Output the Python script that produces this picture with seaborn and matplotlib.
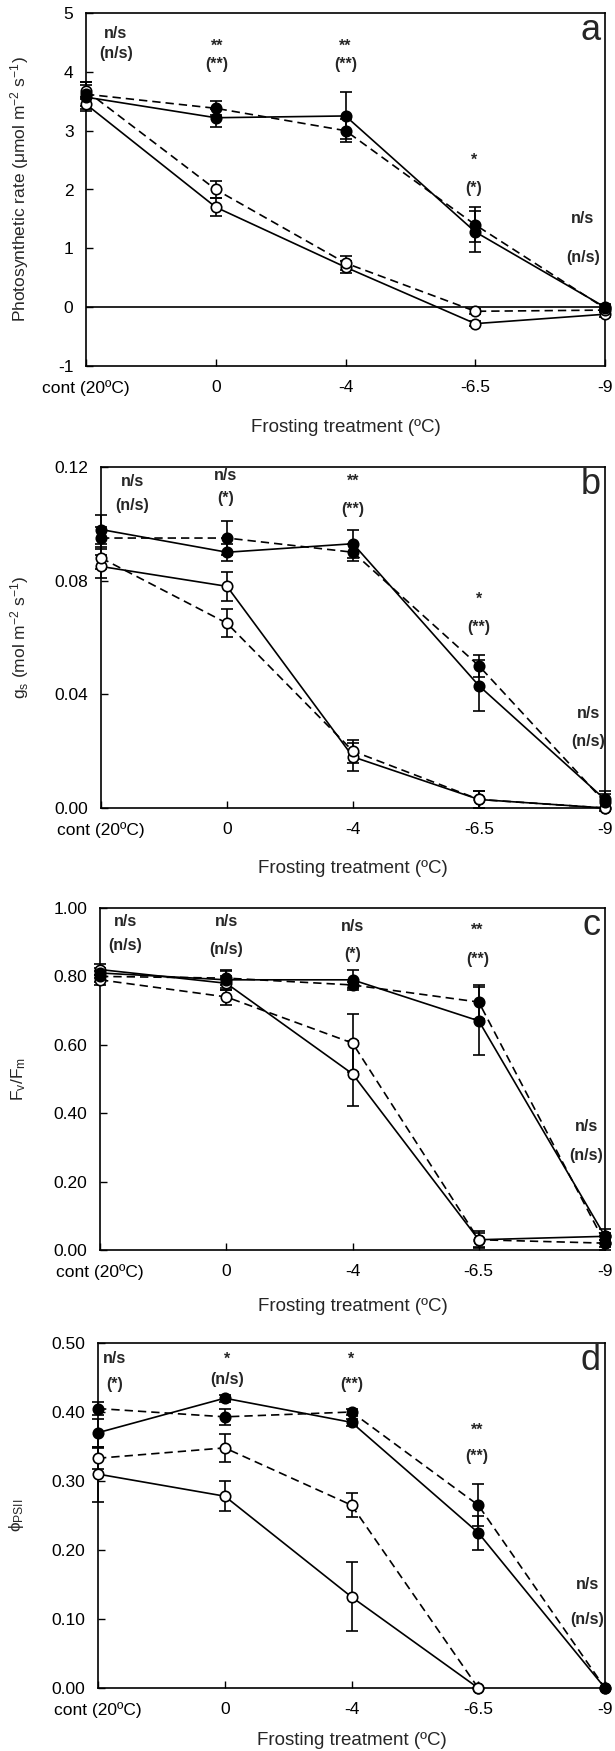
import numpy as np
import matplotlib
matplotlib.use("Agg")
import matplotlib.pyplot as plt
import seaborn as sns

# ---------------- data ----------------
categories = ["cont (20ºC)", "0", "-4", "-6.5", "-9"]
x_label = "Frosting treatment (ºC)"

# panel a: photosynthetic rate
a_closed_solid = [3.57, 3.22, 3.25, 1.28, 0.00]
a_closed_dashed = [3.62, 3.38, 3.00, 1.40, -0.02]
a_open_solid = [3.45, 1.70, 0.68, -0.28, -0.12]
a_open_dashed = [3.68, 2.00, 0.75, -0.07, -0.05]
a_err_closed_solid = [0.20, 0.15, 0.40, 0.35, 0.05]
a_err_closed_dashed = [0.20, 0.12, 0.20, 0.30, 0.05]
a_err_open_solid = [0.12, 0.15, 0.10, 0.04, 0.04]
a_err_open_dashed = [0.15, 0.15, 0.12, 0.04, 0.04]
a_sig_top = ["n/s", "**", "**", "*", "n/s"]
a_sig_bottom = ["(n/s)", "(**)", "(**)", "(*)", "(n/s)"]

# panel b: stomatal conductance
b_closed_solid = [0.098, 0.090, 0.093, 0.043, 0.003]
b_closed_dashed = [0.095, 0.095, 0.090, 0.050, 0.002]
b_open_solid = [0.085, 0.078, 0.018, 0.003, 0.000]
b_open_dashed = [0.088, 0.065, 0.020, 0.003, 0.000]
b_err_closed_solid = [0.005, 0.003, 0.005, 0.009, 0.003]
b_err_closed_dashed = [0.004, 0.006, 0.003, 0.004, 0.003]
b_err_open_solid = [0.004, 0.005, 0.005, 0.003, 0.000]
b_err_open_dashed = [0.004, 0.005, 0.004, 0.003, 0.000]
b_sig_top = ["n/s", "n/s", "**", "*", "n/s"]
b_sig_bottom = ["(n/s)", "(*)", "(**)", "(**)", "(n/s)"]

# panel c: Fv/Fm
c_closed_solid = [0.810, 0.790, 0.790, 0.670, 0.040]
c_closed_dashed = [0.800, 0.795, 0.775, 0.725, 0.020]
c_open_solid = [0.820, 0.780, 0.515, 0.030, 0.040]
c_open_dashed = [0.790, 0.740, 0.605, 0.030, 0.020]
c_err_closed_solid = [0.015, 0.030, 0.030, 0.100, 0.020]
c_err_closed_dashed = [0.015, 0.020, 0.010, 0.050, 0.020]
c_err_open_solid = [0.015, 0.020, 0.095, 0.020, 0.010]
c_err_open_dashed = [0.015, 0.025, 0.085, 0.025, 0.010]
c_sig_top = ["n/s", "n/s", "n/s", "**", "n/s"]
c_sig_bottom = ["(n/s)", "(n/s)", "(*)", "(**)", "(n/s)"]

# panel d: phi PSII
d_closed_solid = [0.370, 0.420, 0.385, 0.225, 0.000]
d_closed_dashed = [0.405, 0.393, 0.400, 0.265, 0.000]
d_open_solid = [0.310, 0.278, 0.132, 0.000, np.nan]
d_open_dashed = [0.333, 0.348, 0.265, 0.000, np.nan]
d_err_closed_solid = [0.020, 0.005, 0.005, 0.025, 0.000]
d_err_closed_dashed = [0.010, 0.012, 0.005, 0.030, 0.000]
d_err_open_solid = [0.040, 0.022, 0.050, 0.000, 0.000]
d_err_open_dashed = [0.015, 0.020, 0.017, 0.000, 0.000]
d_sig_top = ["n/s", "*", "*", "**", "n/s"]
d_sig_bottom = ["(*)", "(n/s)", "(**)", "(**)", "(n/s)"]

# ---------------- style ----------------
sns.set_theme(style="ticks")
plt.rcParams["font.family"] = ["Liberation Sans", "DejaVu Sans"]
plt.rcParams["mathtext.fontset"] = "custom"
plt.rcParams["mathtext.rm"] = "Liberation Sans"
plt.rcParams["mathtext.it"] = "Liberation Sans"

W, H = 615, 1751
fig = plt.figure(figsize=(W / 100, H / 100), dpi=100)
fig.patch.set_facecolor("white")

LW = 1.2
DASH = (0, (5, 3))
TICK_FS = 12.5
XLAB_FS = 13.5
YLAB_FS = 12.5
SIG_FS = 11.5
LETTER_FS = 26


def make_axes(left, right, top, bottom):
    return fig.add_axes([left / W, 1 - bottom / H, (right - left) / W, (bottom - top) / H])


def panel(ax, series, errs, ylim, yticks, yfmt, ylabel, ylab_px, letter,
          sig_top, sig_bottom, sig_x, sig_ytop, sig_ybot, ax_left, ax_w, ax_h,
          xlab_off, zero_line=False):
    x = np.arange(len(categories))
    styles = {
        "open_solid": ("white", "-", 3),
        "open_dashed": ("white", DASH, 3),
        "closed_solid": ("black", "-", 4),
        "closed_dashed": ("black", DASH, 4),
    }
    if zero_line:
        ax.axhline(0, color="black", lw=LW, zorder=1)
    for key in ["open_solid", "open_dashed", "closed_dashed", "closed_solid"]:
        fc, ls, z = styles[key]
        vals = np.array(series[key], dtype=float)
        ax.errorbar(x, vals, yerr=errs[key], fmt="none", ecolor="black",
                    elinewidth=LW, capsize=4, capthick=LW, clip_on=False, zorder=2)
        sns.lineplot(x=x, y=vals, ax=ax, color="black", linestyle=ls, linewidth=LW,
                     marker="o", markersize=7.5, markerfacecolor=fc,
                     markeredgecolor="black", markeredgewidth=1.2,
                     clip_on=False, zorder=z, sort=False, errorbar=None)
    ax.set_xlim(0, len(categories) - 1)
    ax.set_ylim(*ylim)
    ax.set_xticks(x)
    ax.set_xticklabels(categories)
    ax.set_yticks(yticks)
    ax.set_yticklabels([yfmt.format(v) for v in yticks])
    for s in ax.spines.values():
        s.set_visible(True)
        s.set_linewidth(LW)
        s.set_color("black")
    ax.tick_params(axis="both", direction="in", length=5, width=1.0,
                   labelsize=TICK_FS, colors="black")
    ax.tick_params(axis="x", pad=10)
    ax.tick_params(axis="y", pad=9)
    ax.set_xlabel(x_label, fontsize=XLAB_FS)
    ax.xaxis.set_label_coords(0.5, -xlab_off / ax_h)
    ax.set_ylabel(ylabel, fontsize=YLAB_FS)
    ax.yaxis.set_label_coords((ylab_px - ax_left) / ax_w, 0.5)
    ax.text(0.992, 1.0, letter, transform=ax.transAxes, ha="right", va="top",
            fontsize=LETTER_FS)
    for i in range(len(categories)):
        ax.text(sig_x[i], sig_ytop[i], sig_top[i], ha="center", va="center",
                fontsize=SIG_FS, fontweight="bold", clip_on=False)
        ax.text(sig_x[i], sig_ybot[i], sig_bottom[i], ha="center", va="center",
                fontsize=SIG_FS, fontweight="bold", clip_on=False)
    ax.grid(False)


# panel a
ax = make_axes(86, 605, 13, 366)
panel(ax,
      {"closed_solid": a_closed_solid, "closed_dashed": a_closed_dashed,
       "open_solid": a_open_solid, "open_dashed": a_open_dashed},
      {"closed_solid": a_err_closed_solid, "closed_dashed": a_err_closed_dashed,
       "open_solid": a_err_open_solid, "open_dashed": a_err_open_dashed},
      (-1, 5), [-1, 0, 1, 2, 3, 4, 5], "{:.0f}",
      r"Photosynthetic rate ($\mu$mol m$^{-2}$ s$^{-1}$)", 31, "a",
      a_sig_top, a_sig_bottom,
      [0.23, 1.01, 2.0, 2.99, 3.83], [4.66, 4.43, 4.43, 2.5, 1.5],
      [4.32, 4.12, 4.12, 2.02, 0.85], 86, 519, 353, 53, zero_line=True)

# panel b
ax = make_axes(101, 605, 467, 808)
panel(ax,
      {"closed_solid": b_closed_solid, "closed_dashed": b_closed_dashed,
       "open_solid": b_open_solid, "open_dashed": b_open_dashed},
      {"closed_solid": b_err_closed_solid, "closed_dashed": b_err_closed_dashed,
       "open_solid": b_err_open_solid, "open_dashed": b_err_open_dashed},
      (0, 0.12), [0, 0.04, 0.08, 0.12], "{:.2f}",
      r"g$_{\rm s}$ (mol m$^{-2}$ s$^{-1}$)", 31, "b",
      b_sig_top, b_sig_bottom,
      [0.25, 0.99, 2.0, 3.0, 3.87], [0.115, 0.117, 0.115, 0.0734, 0.0333],
      [0.1064, 0.1088, 0.105, 0.0635, 0.0234], 101, 504, 341, 52)

# panel c
ax = make_axes(100, 605, 908, 1250)
panel(ax,
      {"closed_solid": c_closed_solid, "closed_dashed": c_closed_dashed,
       "open_solid": c_open_solid, "open_dashed": c_open_dashed},
      {"closed_solid": c_err_closed_solid, "closed_dashed": c_err_closed_dashed,
       "open_solid": c_err_open_solid, "open_dashed": c_err_open_dashed},
      (0, 1.0), [0, 0.2, 0.4, 0.6, 0.8, 1.0], "{:.2f}",
      r"F$_{\rm v}$/F$_{\rm m}$", 28, "c",
      c_sig_top, c_sig_bottom,
      [0.2, 1.0, 2.0, 2.99, 3.85], [0.96, 0.96, 0.946, 0.934, 0.36],
      [0.889, 0.88, 0.865, 0.85, 0.275], 100, 505, 342, 48)

# panel d
ax = make_axes(98, 605, 1343, 1688)
panel(ax,
      {"closed_solid": d_closed_solid, "closed_dashed": d_closed_dashed,
       "open_solid": d_open_solid, "open_dashed": d_open_dashed},
      {"closed_solid": d_err_closed_solid, "closed_dashed": d_err_closed_dashed,
       "open_solid": d_err_open_solid, "open_dashed": d_err_open_dashed},
      (0, 0.5), [0, 0.1, 0.2, 0.3, 0.4, 0.5], "{:.2f}",
      r"$\phi_{\rm PSII}$", 26, "d",
      d_sig_top, d_sig_bottom,
      [0.13, 1.02, 2.0, 2.99, 3.86], [0.478, 0.476, 0.476, 0.374, 0.15],
      [0.44, 0.447, 0.44, 0.335, 0.099], 98, 507, 345, 44)

fig.savefig("out.png", dpi=100, facecolor="white")
